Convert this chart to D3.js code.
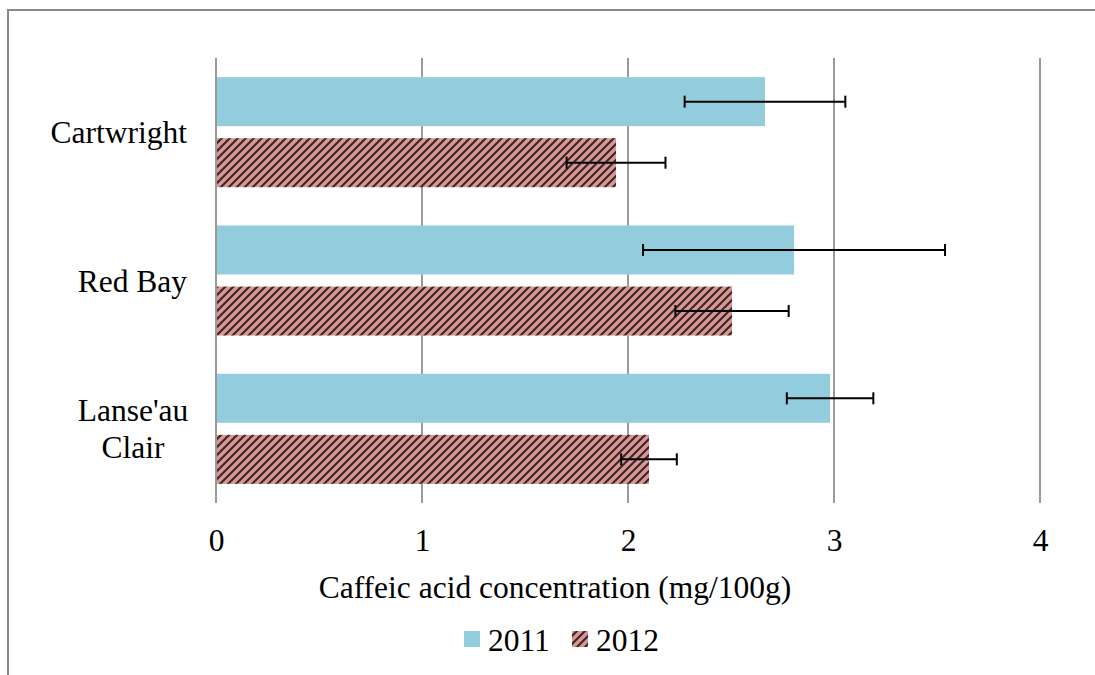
<!DOCTYPE html>
<html>
<head>
<meta charset="utf-8">
<script src="https://cdn.jsdelivr.net/npm/d3@7"></script>
<style>
  html, body { margin: 0; padding: 0; background: #fff; }
  svg { display: block; }
  text { font-family: "Liberation Serif", "Times New Roman", serif; fill: #000; }
</style>
</head>
<body>
<svg id="chart" width="1095" height="675"></svg>
<script>
// Sites (top to bottom) and sampling years
const sites = ["Cartwright", "Red Bay", "Lanse'au Clair"];
const siteLines = [["Cartwright"], ["Red Bay"], ["Lanse'au", "Clair"]];
const years = ["2011", "2012"];

// Mean caffeic acid concentration (mg/100g) per site
const values2011 = [2.665, 2.806, 2.981];
const values2012 = [1.942, 2.505, 2.102];

// Error bar half-widths (mg/100g)
const errors2011 = [0.39, 0.733, 0.21];
const errors2012 = [0.24, 0.275, 0.135];

const xTicks = [0, 1, 2, 3, 4];
const xTitle = "Caffeic acid concentration (mg/100g)";

const svg = d3.select("#chart");

const margin = { left: 216, right: 1040, top: 58, bottom: 503 };
const fontSize = 31.5;

const x = d3.scaleLinear().domain([0, 4]).range([margin.left, margin.right]);
const y = d3.scaleBand().domain(sites).range([margin.top, margin.bottom])
  .paddingInner(0.258).paddingOuter(0.129);
const ySub = d3.scaleBand().domain(years).range([0, y.bandwidth()]).paddingInner(0.197);

// Hatch pattern for 2012 bars
const defs = svg.append("defs");
const P = 8;
const pat = defs.append("pattern")
  .attr("id", "hatch")
  .attr("patternUnits", "userSpaceOnUse")
  .attr("width", P).attr("height", P);
pat.append("rect").attr("width", P).attr("height", P).attr("fill", "#d99694");
pat.append("path")
  .attr("d", `M-1,1 l2,-2 M0,${P} l${P},-${P} M${P - 1},${P + 1} l2,-2`)
  .attr("stroke", "#3d2828")
  .attr("stroke-width", 2.2);

// Outer frame
svg.append("path")
  .attr("d", "M8,676 L8,10 L1096,10")
  .attr("fill", "none")
  .attr("stroke", "#8a8a8a")
  .attr("stroke-width", 2);

// Vertical gridlines (including the axis line at 0)
svg.append("g").selectAll("line")
  .data(xTicks)
  .join("line")
  .attr("x1", d => x(d)).attr("x2", d => x(d))
  .attr("y1", margin.top).attr("y2", margin.bottom)
  .attr("stroke", "#9a9a9a")
  .attr("stroke-width", 2);

// X axis tick labels
const xAxis = d3.axisBottom(x).tickValues(xTicks).tickSize(0).tickPadding(0).tickFormat(d3.format("d"));
const gx = svg.append("g").attr("transform", `translate(0,${margin.bottom + 24})`).call(xAxis);
gx.select(".domain").remove();
gx.selectAll("text")
  .attr("font-size", fontSize)
  .attr("font-family", "Liberation Serif, Times New Roman, serif")
  .attr("fill", "#000")
  .attr("dy", "0.75em");

// X axis title
svg.append("text")
  .attr("x", 555)
  .attr("y", 598)
  .attr("text-anchor", "middle")
  .attr("font-size", fontSize)
  .text(xTitle);

// Category labels
const yLab = svg.append("g");
sites.forEach((s, i) => {
  const lines = siteLines[i];
  const cy = y(s) + y.bandwidth() / 2;
  const lh = 37;
  const t = yLab.append("text")
    .attr("font-size", fontSize);
  lines.forEach((ln, j) => {
    t.append("tspan")
      .attr("x", lines.length > 1 ? 133 : 187)
      .attr("text-anchor", lines.length > 1 ? "middle" : "end")
      .attr("y", cy + 11 + (j - (lines.length - 1) / 2) * lh)
      .text(ln);
  });
});

// Bars
const series = [
  { year: "2011", values: values2011, errors: errors2011, fill: "#93cddd" },
  { year: "2012", values: values2012, errors: errors2012, fill: "url(#hatch)" }
];

series.forEach(se => {
  const g = svg.append("g");
  g.selectAll("rect")
    .data(sites)
    .join("rect")
    .attr("x", x(0) + 1)
    .attr("y", d => y(d) + ySub(se.year))
    .attr("width", (d, i) => x(se.values[i]) - x(0) - 1)
    .attr("height", ySub.bandwidth())
    .attr("fill", se.fill);
});

// Error bars
series.forEach(se => {
  const g = svg.append("g").attr("stroke", "#000").attr("stroke-width", 2).attr("fill", "none");
  sites.forEach((s, i) => {
    const cy = y(s) + ySub(se.year) + ySub.bandwidth() / 2;
    const lo = x(se.values[i] - se.errors[i]);
    const hi = x(se.values[i] + se.errors[i]);
    g.append("line").attr("x1", lo).attr("x2", hi).attr("y1", cy).attr("y2", cy);
    g.append("line").attr("x1", lo).attr("x2", lo).attr("y1", cy - 6).attr("y2", cy + 6);
    g.append("line").attr("x1", hi).attr("x2", hi).attr("y1", cy - 6).attr("y2", cy + 6);
  });
});

// Legend
const legend = svg.append("g");
const legendItems = [
  { label: "2011", fill: "#93cddd", x: 464 },
  { label: "2012", fill: "url(#hatch)", x: 572 }
];
legendItems.forEach(it => {
  legend.append("rect")
    .attr("x", it.x).attr("y", 631)
    .attr("width", 16).attr("height", 16)
    .attr("fill", it.fill);
  legend.append("text")
    .attr("x", it.x + 24).attr("y", 651)
    .attr("font-size", fontSize)
    .text(it.label);
});
</script>
</body>
</html>
